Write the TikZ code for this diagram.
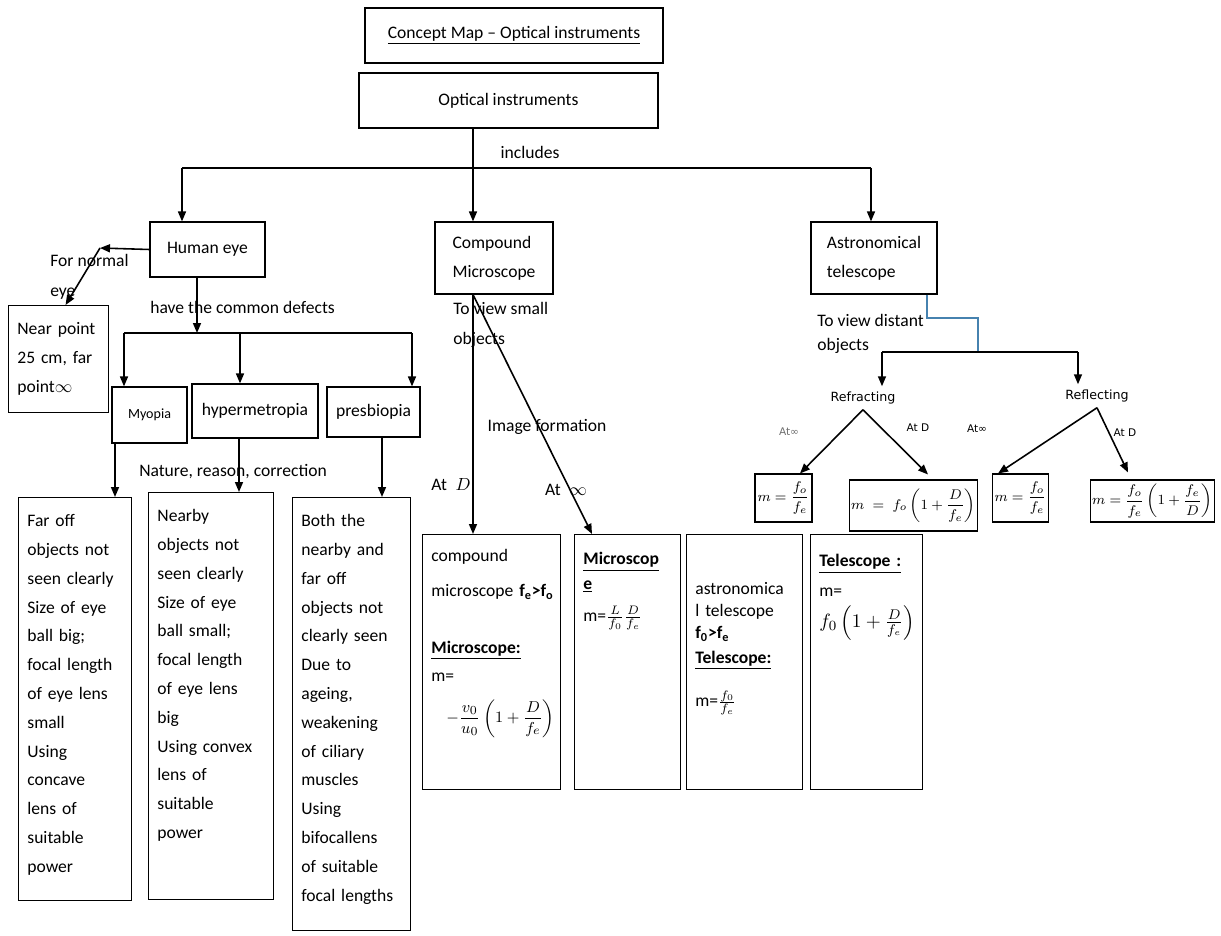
\documentclass[tikz,border=0pt]{standalone}
\usepackage{fontspec}
\usepackage{amsmath}
\usepackage{tikz}
\setmainfont{Carlito}
\newfontfamily\verdfont{DejaVu Sans}
\usetikzlibrary{arrows.meta, positioning, calc}
\definecolor{linkteal}{RGB}{70, 130, 175}
\definecolor{softgray}{RGB}{110, 110, 110}

\tikzset{
  box/.style={draw, line width=0.7pt, align=left, inner sep=2pt, font=\fontsize{10}{16.4}\selectfont},
  tallbox/.style={draw, line width=0.7pt, anchor=north west, align=left, inner xsep=5pt, inner ysep=4pt, font=\fontsize{10}{16.4}\selectfont},
  formbox/.style={tallbox, font=\fontsize{10}{12.5}\selectfont},
  eqbox/.style={draw, line width=0.6pt, inner sep=1pt, font=\footnotesize},
  lbl/.style={inner sep=0pt, font=\fontsize{10}{17}\selectfont},
  kindlbl/.style={inner sep=3pt, font=\verdfont\fontsize{7.2}{8}\selectfont},
  tinylbl/.style={inner sep=0pt, font=\verdfont\fontsize{6}{7}\selectfont},
  arr/.style={-{Triangle[length=2mm,width=1.6mm]}, line width=0.9pt},
  link/.style={line width=0.9pt},
}

\begin{document}
\begin{tikzpicture}[x=0.02cm, y=-0.02cm]
    \useasboundingbox (0,0) rectangle (1221,936);

    % Title
    \node[box, align=center, minimum width=5.96cm, minimum height=1.1cm] (title) at (514,35.5) {\underline{Concept Map -- Optical instruments}};
    \node[box, align=center, minimum width=5.98cm, minimum height=1.1cm] (opt) at (508.5,100.5) {Optical instruments};

    % Instruments
    \node[box, minimum width=2.30cm, minimum height=1.10cm] (eye) at (207.5,249.5) {Human eye};
    \node[box, minimum width=2.36cm, minimum height=1.44cm] (comp) at (494,258) {Compound\\Microscope};
    \node[box, minimum width=2.52cm, minimum height=1.44cm] (tel) at (874,258) {Astronomical\\telescope};

    \coordinate (inc) at (473,168);
    \coordinate (incL) at (182,168);
    \coordinate (incR) at (871,168);
    \draw[arr] (opt.south -| inc) -- (comp.north -| inc);
    \draw[link] (incL) -- (incR);
    \draw[arr] (incL) -- (incL |- eye.north);
    \draw[arr] (incR) -- (incR |- tel.north);
    \node[lbl] (incl) at (530,152) {includes};

    % Human eye
    \node[tallbox, text width=1.647cm, text height=0.44cm, text depth=1.42cm] (near) at (8,305) {Near point\\25 cm, far\\point$\infty$};
    \coordinate (nrm) at (100,248);
    \draw[arr] (eye.west) -- (nrm);
    \draw[arr] (nrm) -- ([xshift=0.14cm]near.north);
    \node[lbl, anchor=west, align=left] (nrmlbl) at (50,277) {For normal\\eye};

    \node[box, font=\fontsize{8}{10}\selectfont, minimum width=1.50cm, minimum height=1.12cm] (myo) at (149.5,415) {Myopia};
    \node[box, minimum width=2.52cm, minimum height=1.08cm] (hyp) at (255,411) {hypermetropia};
    \node[box, minimum width=1.86cm, minimum height=1.00cm] (pre) at (373.5,412) {presbiopia};

    \coordinate (dfc) at (197,333);
    \coordinate (dfcL) at (124,333);
    \coordinate (dfcM) at (240,333);
    \coordinate (dfcR) at (412,333);
    \draw[arr] (eye.south -| dfc) -- (dfc);
    \draw[link] (dfcL) -- (dfcR);
    \draw[arr] (dfcL) -- (dfcL |- myo.north);
    \draw[arr] (dfcM) -- (dfcM |- hyp.north);
    \draw[arr] (dfcR) -- (dfcR |- pre.north);
    \node[lbl, anchor=west] (dfclbl) at (150,307) {have the common defects};

    % Defects
    \node[tallbox, text width=1.907cm, text height=0.44cm, text depth=7.34cm] (myotxt) at (18,497) {Far off\\objects not\\seen clearly\\Size of eye\\ball big;\\focal length\\of eye lens\\small\\Using\\concave\\lens of\\suitable\\power};
    \node[tallbox, text width=2.147cm, text height=0.44cm, text depth=7.42cm] (hyptxt) at (148,492) {Nearby\\objects not\\seen clearly\\Size of eye\\ball small;\\focal length\\of eye lens\\big\\Using convex\\lens of\\suitable\\power};
    \node[tallbox, text width=2.007cm, text height=0.44cm, text depth=7.94cm] (pretxt) at (292,497) {Both the\\nearby and\\far off\\objects not\\clearly seen\\Due to\\ageing,\\weakening\\of ciliary\\muscles\\Using\\bifocallens\\of suitable\\focal lengths};
    \draw[arr] ([xshift=-0.69cm]myo.south) -- ([xshift=-0.69cm]myo.south |- myotxt.north);
    \draw[arr] ([xshift=-0.32cm]hyp.south) -- ([xshift=-0.32cm]hyp.south |- hyptxt.north);
    \draw[arr] ([xshift=0.17cm]pre.south) -- ([xshift=0.17cm]pre.south |- pretxt.north);
    \node[lbl] (ncr) at (233,472) {Nature, reason, correction};

    % Compound microscope
    \node[formbox, text width=2.407cm, text height=0.40cm, text depth=4.42cm] (micD) at (422,534) {compound\\[7.5pt]
      \mbox{microscope \textbf{f\textsubscript{e}>f\textsubscript{o}}}\\[19.5pt]
      \textbf{\underline{Microscope:}}\\[4pt]
      m=\\[9pt]
      \hspace*{0.3cm}{\fontsize{9.5}{11}\selectfont $-\dfrac{v_0}{u_0}\left(1+\dfrac{D}{f_e}\right)$}};
    \node[formbox, text width=1.767cm, text height=0.46cm, text depth=4.36cm] (micI) at (574,534) {\textbf{\underline{Microscop}}\\[1.5pt]
      \textbf{\underline{e}}\\[6pt]
      m=$\frac{L}{f_0}\frac{D}{f_e}$};
    \draw[arr] (comp.south -| inc) -- (inc |- micD.north);
    \draw[arr] (comp.south -| inc) -- ([xshift=0.36cm]micI.north west);
    \node[lbl, anchor=west, align=left] (smalllbl) at (453,325) {To view small\\objects};
    \node[lbl] (imglbl) at (547,427) {Image formation};
    \node[lbl] (atD) at (451,485) {At\enspace$D$};
    \node[lbl] (atinf) at (566,490) {At\enspace$\infty$};

    % Astronomical telescope
    \node[formbox, text width=1.967cm, text height=1.06cm, text depth=3.76cm] (telI) at (686,534) {astronomica\\
      l telescope\\
      \textbf{f\textsubscript{0}>f\textsubscript{e}}\\[1.5pt]
      \textbf{\underline{Telescope:}}\\[11pt]
      m=$\frac{f_0}{f_e}$};
    \node[formbox, text width=1.887cm, text height=0.50cm, text depth=4.32cm] (telD) at (810,534) {\textbf{\underline{Telescope :}}\\[4.5pt]
      m=\\[4pt]
      {\fontsize{11}{13}\selectfont $f_0\left(1+\frac{D}{f_e}\right)$}};

    \coordinate (tlbend) at (978,318);
    \coordinate (tlsplit) at (978,352);
    \coordinate (tlL) at (882,352);
    \coordinate (tlR) at (1078,352);
    \draw[link, linkteal, line width=0.6pt] ([xshift=1.06cm]tel.south) |- (tlbend) -- (tlsplit);
    \draw[link] (tlL) -- (tlR);
    \node[lbl, anchor=west, align=left] (distlbl) at (817,334) {To view distant\\[-3pt]objects};

    \node[kindlbl] (refr) at (863,398) {Refracting};
    \node[kindlbl] (refl) at (1097,396) {Reflecting};
    \draw[arr] (tlL) -- (tlL |- refr.north);
    \draw[arr] (tlR) -- (tlR |- refl.north);

    \node[eqbox, minimum width=1.14cm, minimum height=0.96cm] (eq1) at (783.5,498) {$m=\dfrac{f_o}{f_e}$};
    \node[eqbox, minimum width=2.5cm, minimum height=1.02cm] (eq2) at (913.5,505.5) {$m\;=\;f_o\left(1+\dfrac{D}{f_e}\right)$};
    \node[eqbox, minimum width=1.06cm, minimum height=0.96cm] (eq3) at (1020.5,498) {$m=\dfrac{f_o}{f_e}$};
    \node[eqbox, minimum width=2.34cm, minimum height=0.84cm] (eq4) at (1152.5,501) {$m=\dfrac{f_o}{f_e}\left(1+\dfrac{f_e}{D}\right)$};

    \draw[arr] (refr.south) -- ([xshift=0.33cm]eq1.north);
    \draw[arr] (refr.south) -- ([xshift=0.29cm,yshift=0.1cm]eq2.north);
    \draw[arr] (refl.south) -- ([xshift=-0.45cm]eq3.north);
    \draw[arr] (refl.south) -- ([xshift=-0.49cm,yshift=0.14cm]eq4.north);

    \node[tinylbl, text=softgray] (at1) at (789,432) {At∞};
    \node[tinylbl] (at2) at (918,428) {At D};
    \node[tinylbl] (at3) at (977,429) {At∞};
    \node[tinylbl] (at4) at (1125,433) {At D};
\end{tikzpicture}
\end{document}
